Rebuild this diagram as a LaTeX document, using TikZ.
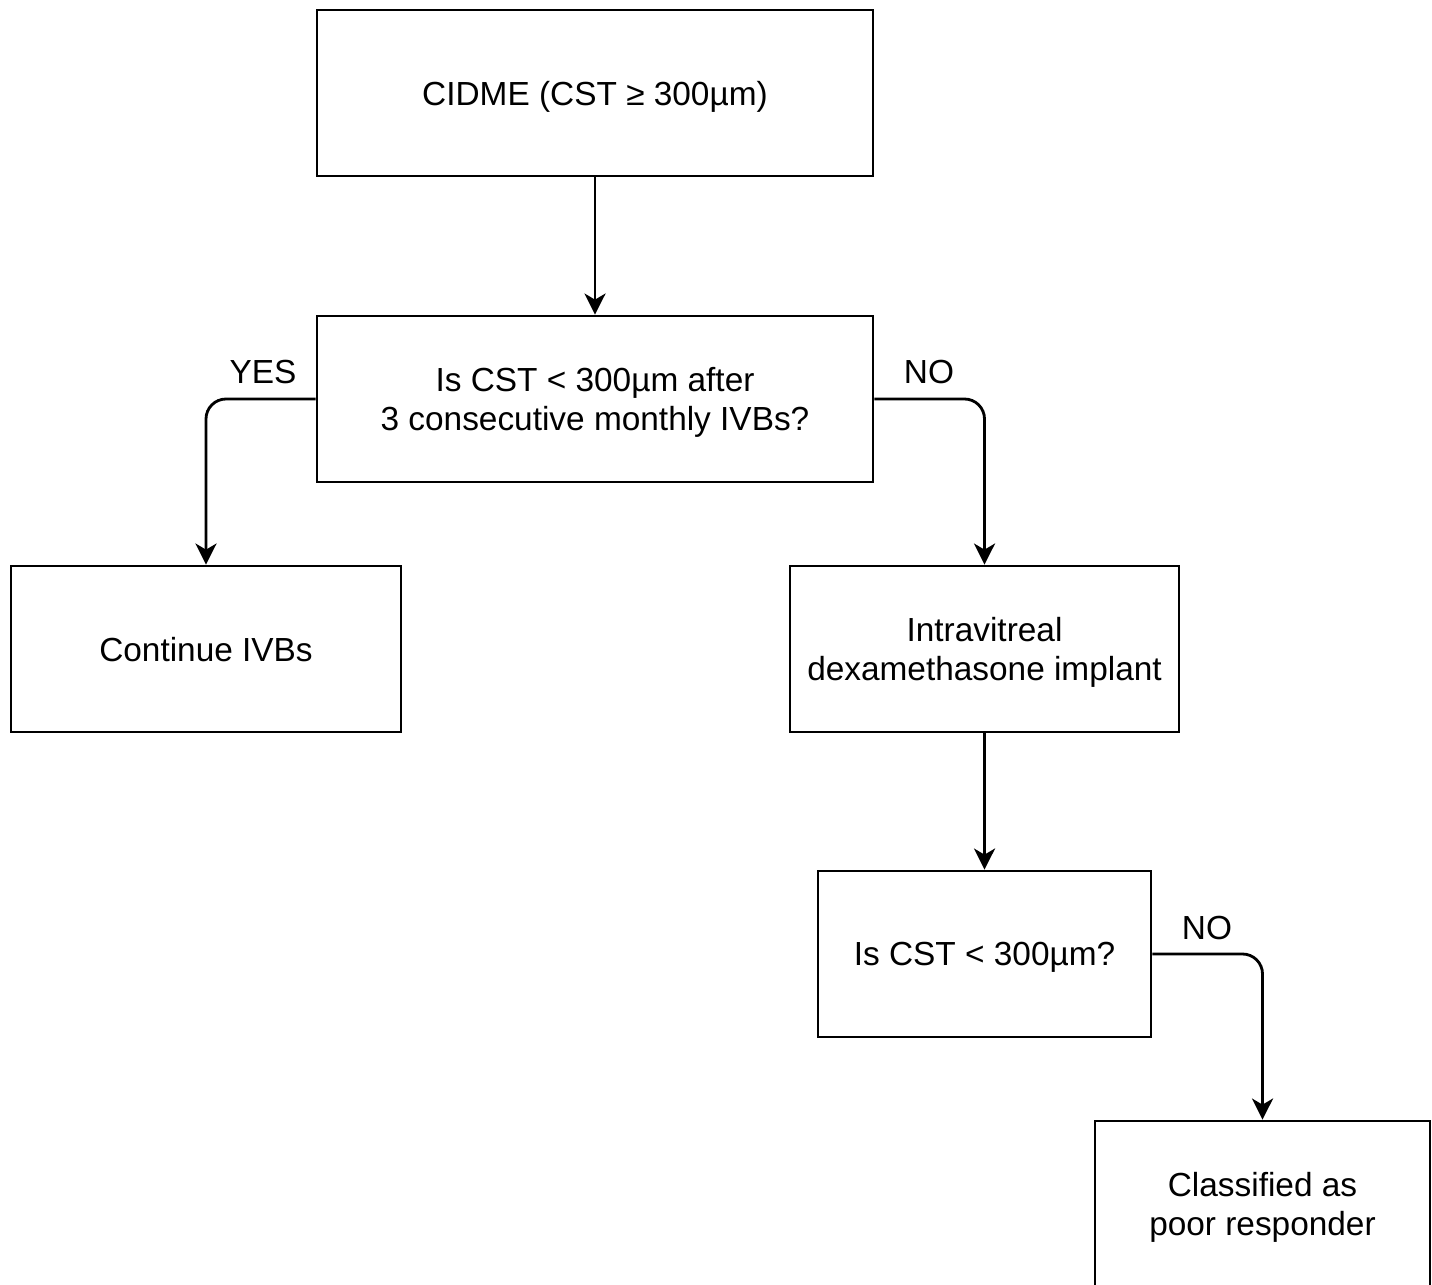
\documentclass[tikz,border=0pt]{standalone}
\usepackage{fontspec}
\setmainfont{Liberation Sans}
\usetikzlibrary{arrows.meta}

\begin{document}
\begin{tikzpicture}[
  box/.style={draw, line width=1.6pt, minimum height=3.32cm, align=center,
    text depth=0pt, font=\fontsize{19}{22.5}\selectfont},
  arr/.style={line width=1.6pt, -{Stealth[length=12pt,width=12pt,inset=3.5pt]}},
  lbl/.style={font=\fontsize{19}{22.5}\selectfont}]
\useasboundingbox (0,0) rectangle (28.64,-25.7);
\clip (0,0) rectangle (28.64,-25.7);
\node[box, minimum width=11.12cm] (cidme) at (11.9,-1.86) {CIDME (CST ≥ 300µm)};
\node[box, minimum width=11.12cm] (ask1) at (11.9,-7.98) {Is CST < 300µm after\\3 consecutive monthly IVBs?};
\node[box, minimum width=7.8cm] (cont) at (4.12,-12.98) {Continue IVBs};
\node[box, minimum width=7.78cm] (dex) at (19.69,-12.98) {Intravitreal\\dexamethasone implant};
\node[box, minimum width=6.66cm] (ask2) at (19.69,-19.08) {Is CST < 300µm?};
\node[box, minimum width=6.7cm] (poor) at (25.25,-24.08) {Classified as\\poor responder};
\draw[arr] (cidme) -- (ask1);
\draw[arr, rounded corners=0.4cm] (ask1.west) -| (cont.north);
\draw[arr, rounded corners=0.4cm] (ask1.east) -| (dex.north);
\draw[arr] (dex) -- (ask2);
\draw[arr, rounded corners=0.4cm] (ask2.east) -| (poor.north);
\node[lbl] (yes1) at (5.26,-7.44) {YES};
\node[lbl] (no1) at (18.58,-7.44) {NO};
\node[lbl] (no2) at (24.14,-18.56) {NO};
\end{tikzpicture}
\end{document}
